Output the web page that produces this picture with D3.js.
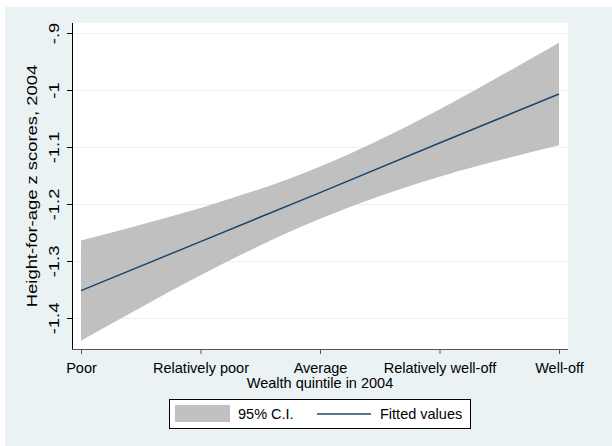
<!DOCTYPE html>
<html>
<head>
<meta charset="utf-8">
<script src="https://cdn.jsdelivr.net/npm/d3@7"></script>
<style>
  body { margin: 0; background: #fff; }
  svg { display: block; font-family: 'Liberation Sans', Arial, sans-serif; }
</style>
</head>
<body>
<svg id="chart" width="612" height="446"></svg>
<script>
// wealth quintiles 1..5
let quintiles = [1, 2, 3, 4, 5];
let quintileLabels = ['Poor', 'Relatively poor', 'Average', 'Relatively well-off', 'Well-off'];
let fitted = [-1.352, -1.266, -1.180, -1.093, -1.007];
let ciUpper = [-1.264, -1.207, -1.134, -1.034, -0.917];
let ciLower = [-1.440, -1.325, -1.226, -1.152, -1.097];
let yTicks = [-1.4, -1.3, -1.2, -1.1, -1, -0.9];
let yTickLabels = ['-1.4', '-1.3', '-1.2', '-1.1', '-1', '-.9'];

let svg = d3.select('#chart');
let width = 612, height = 446;

let plot = { left: 72, right: 568, top: 23, bottom: 349 };

// vertical text in the original is stretched along its length
let vStretch = 1.27;

let x = d3.scaleLinear().domain([1, 5]).range([81, 559]);
let y = d3.scaleLinear().domain([-1.4, -0.9]).range([318, 33]);

// outer background
svg.append('rect')
  .attr('x', 5).attr('y', 7)
  .attr('width', width - 5).attr('height', height - 7)
  .attr('fill', '#eaf2f3');

// plot region
svg.append('rect')
  .attr('x', plot.left).attr('y', plot.top)
  .attr('width', plot.right - plot.left).attr('height', plot.bottom - plot.top)
  .attr('fill', '#fff');

// grid lines
svg.append('g')
  .selectAll('line').data(yTicks).enter().append('line')
  .attr('x1', plot.left).attr('x2', plot.right)
  .attr('y1', d => Math.round(y(d)) + 0.5)
  .attr('y2', d => Math.round(y(d)) + 0.5)
  .attr('stroke', '#eaf2f3')
  .attr('stroke-width', 1);

let rows = quintiles.map((q, i) => ({ q: q, fit: fitted[i], hi: ciUpper[i], lo: ciLower[i] }));

// confidence band
let band = d3.area()
  .x(d => x(d.q))
  .y0(d => y(d.lo))
  .y1(d => y(d.hi))
  .curve(d3.curveNatural);

svg.append('path')
  .datum(rows)
  .attr('d', band)
  .attr('fill', '#c0c0c0');

// fitted line
let line = d3.line()
  .x(d => x(d.q))
  .y(d => y(d.fit));

svg.append('path')
  .datum(rows)
  .attr('d', line)
  .attr('fill', 'none')
  .attr('stroke', '#1a476f')
  .attr('stroke-width', 1.5);

// y axis
let yAxis = d3.axisLeft(y)
  .tickValues(yTicks)
  .tickFormat((d, i) => yTickLabels[i])
  .tickSize(5)
  .tickSizeOuter(0);

let gy = svg.append('g')
  .attr('transform', `translate(${plot.left},0)`)
  .call(yAxis);
gy.select('.domain')
  .attr('d', `M0.5,${plot.top}V${plot.bottom + 1}`)
  .attr('stroke', '#000');
gy.selectAll('.tick line').attr('stroke', '#000');
gy.selectAll('.tick text')
  .attr('font-size', 14.5)
  .attr('fill', '#000')
  .attr('text-anchor', 'middle')
  .attr('dy', null)
  .attr('x', null)
  .attr('transform', `translate(-13,0) rotate(-90) scale(${vStretch},1)`)
  .attr('y', 0);

// x axis
let xAxis = d3.axisBottom(x)
  .tickValues(quintiles)
  .tickFormat((d, i) => quintileLabels[i])
  .tickSize(5)
  .tickSizeOuter(0);

let gx = svg.append('g')
  .attr('transform', `translate(0,${plot.bottom})`)
  .call(xAxis);
gx.select('.domain')
  .attr('d', `M${plot.left},0.5H${plot.right}`)
  .attr('stroke', '#555');
gx.selectAll('.tick line').attr('stroke', '#555');
gx.selectAll('.tick text')
  .attr('font-size', 14.5)
  .attr('fill', '#000')
  .attr('dy', null)
  .attr('y', 24);

// axis titles
svg.append('text')
  .attr('x', (plot.left + plot.right) / 2)
  .attr('y', 388)
  .attr('text-anchor', 'middle')
  .attr('font-size', 14.5)
  .text('Wealth quintile in 2004');

svg.append('text')
  .attr('transform', `translate(37,${(plot.top + plot.bottom) / 2}) rotate(-90) scale(${vStretch},1)`)
  .attr('text-anchor', 'middle')
  .attr('font-size', 14.5)
  .text('Height-for-age z scores, 2004');

// legend
let legend = svg.append('g');
legend.append('rect')
  .attr('x', 169.5).attr('y', 399.5)
  .attr('width', 301).attr('height', 29)
  .attr('fill', '#fff')
  .attr('stroke', '#000');
legend.append('rect')
  .attr('x', 175).attr('y', 405)
  .attr('width', 55).attr('height', 17)
  .attr('fill', '#c0c0c0');
legend.append('text')
  .attr('x', 238).attr('y', 419)
  .attr('font-size', 14.5)
  .text('95% C.I.');
legend.append('line')
  .attr('x1', 317).attr('x2', 371)
  .attr('y1', 414).attr('y2', 414)
  .attr('stroke', '#1a476f')
  .attr('stroke-width', 1.5);
legend.append('text')
  .attr('x', 380).attr('y', 419)
  .attr('font-size', 14.5)
  .text('Fitted values');
</script>
</body>
</html>
